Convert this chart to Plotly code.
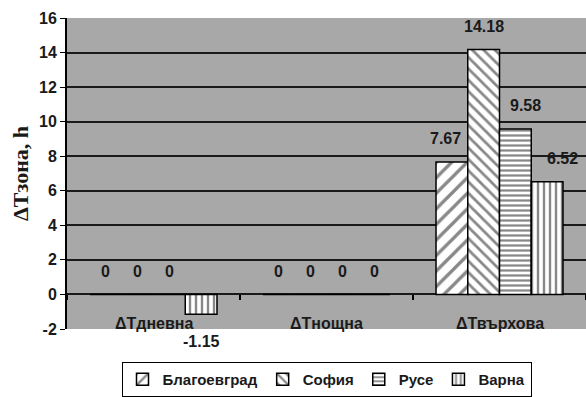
import plotly.graph_objects as go

# Categories and per-city values (hours)
categories = ["ΔТдневна", "ΔТнощна", "ΔТвърхова"]
cities = ["Благоевград", "София", "Русе", "Варна"]
blagoevgrad = [0, 0, 7.67]
sofia = [0, 0, 14.18]
ruse = [0, 0, 9.58]
varna = [-1.15, 0, 6.52]
series = [blagoevgrad, sofia, ruse, varna]
y_ticks = [-2, 0, 2, 4, 6, 8, 10, 12, 14, 16]
y_tick_labels = ["-2", "0", "2", "4", "6", "8", "10", "12", "14", "16"]

# Hatch style per city
patterns = [
    dict(shape="/", size=11, solidity=0.3),
    dict(shape="\\", size=8, solidity=0.35),
    dict(shape="-", size=5, solidity=0.45),
    dict(shape="|", size=6, solidity=0.4),
]
# horizontal nudges (px) for the value labels of the last group
label_nudge = [-6, 0, 10, 15]

FONT = "Arial, 'Liberation Sans', sans-serif"
TEXT = "#1a1a1a"
BARGAP = 0.266
n = len(series)

fig = go.Figure()
for name, vals, pat in zip(cities, series, patterns):
    fig.add_trace(go.Bar(
        name=name, x=categories, y=vals,
        marker=dict(color="white",
                    line=dict(color="black", width=1.5),
                    pattern=dict(fgcolor="#111111", bgcolor="white",
                                 fillmode="overlay", **pat)),
    ))

annotations = []
# value labels above (or below) each bar
for i, vals in enumerate(series):
    for j, v in enumerate(vals):
        xpos = j + (i - (n - 1) / 2) * (1 - BARGAP) / n
        annotations.append(dict(
            x=xpos, y=v, xref="x", yref="y", text=f"{v:g}",
            showarrow=False, yanchor="middle",
            yshift=23 if v >= 0 else -27,
            xshift=label_nudge[i] if j == 2 else 0,
            font=dict(family=FONT, size=16, color=TEXT, weight="bold"),
        ))
# category names along the bottom of the plot
for j, c in enumerate(categories):
    annotations.append(dict(
        x=j, y=-2, xref="x", yref="y", text=c, showarrow=False,
        yanchor="bottom", yshift=-5,
        font=dict(family=FONT, size=16, color=TEXT, weight="bold"),
    ))

fig.update_layout(
    width=586, height=397,
    margin=dict(l=67, r=0, t=18, b=68, autoexpand=False),
    paper_bgcolor="white", plot_bgcolor="#a8a8a8",
    barmode="group", bargap=BARGAP, bargroupgap=0,
    showlegend=True,
    legend=dict(orientation="h", x=0.5, xanchor="center",
                yref="container", y=0, yanchor="bottom",
                bordercolor="black", borderwidth=1, bgcolor="white",
                font=dict(family=FONT, size=15, color=TEXT, weight="bold"),
                itemwidth=30, tracegroupgap=0),
    annotations=annotations,
    xaxis=dict(anchor="free", position=2 / 18, showticklabels=False,
               tickson="boundaries", ticks="outside", ticklen=5,
               tickcolor="black", tickwidth=2, showgrid=False,
               showline=False, zeroline=False),
    yaxis=dict(range=[-2, 16], tickvals=y_ticks, ticktext=y_tick_labels,
               showgrid=True, gridcolor="#1a1a1a", gridwidth=2,
               zeroline=True, zerolinecolor="#1a1a1a", zerolinewidth=2,
               showline=True, linecolor="black", linewidth=2,
               ticks="outside", ticklen=5, tickcolor="black",
               tickfont=dict(family=FONT, size=16, color=TEXT, weight="bold"),
               title=dict(text="ΔTзона, h", standoff=4,
                          font=dict(family="'Times New Roman', 'Liberation Serif', serif",
                                    size=22, color=TEXT, weight="bold"))),
)

fig.write_html("out.html")
